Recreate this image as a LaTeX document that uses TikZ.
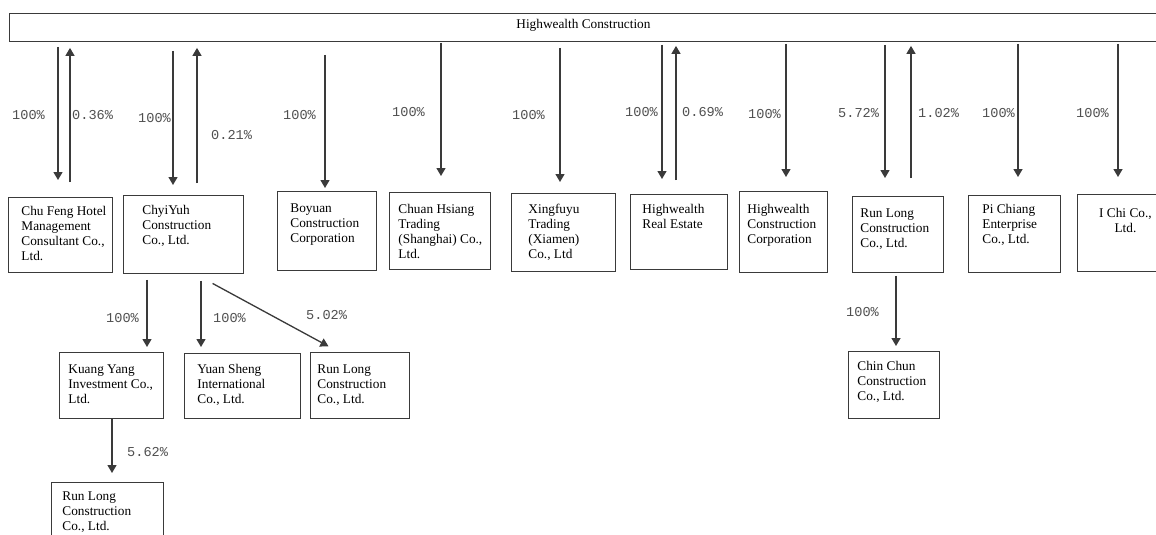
\documentclass[tikz,border=0pt]{standalone}
\usepackage{fontspec}
\setmainfont{Liberation Serif}
\newfontfamily\pctfont{Liberation Mono}
\usetikzlibrary{arrows.meta}
\definecolor{boxc}{HTML}{3A3A3A}
\definecolor{arrc}{HTML}{3A3A3A}
\definecolor{pctc}{HTML}{505050}
\newcommand\bt[5]{\parbox[c][#2pt][t]{#1pt}{\fontsize{13.3}{15}\selectfont\vspace*{#4pt}\leftskip=#3pt\rightskip=0pt plus 1fil\parindent=0pt #5\par}}
\tikzset{
  box/.style={draw=boxc, line width=0.9pt, inner sep=0pt, anchor=north west},
  arr/.style={draw=arrc, line width=1.3pt, -{Triangle[length=8pt,width=9pt]}},
  pct/.style={font=\pctfont\fontsize{13.6}{15}\selectfont, text=pctc, inner sep=0pt, anchor=west}
}
\begin{document}
\begin{tikzpicture}[x=1pt,y=-1pt]
\clip (0,0) rectangle (1156,535);
\fill[white] (0,0) rectangle (1156,535);
% top box
\node[box, minimum width=1148pt, minimum height=28pt, text height=9pt, text depth=7pt, font=\fontsize{13.3}{15}\selectfont] (hw) at (9,13) {Highwealth Construction};
% first row
\node[box] (cf) at (8,197) {\bt{104}{75}{13}{9}{Chu Feng Hotel\\Management\\Consultant Co.,\\Ltd.}};
\node[box] (cy) at (123,195) {\bt{120}{78}{19}{10}{ChyiYuh\\Construction\\Co., Ltd.}};
\node[box] (by) at (277,191) {\bt{99}{79}{13}{12}{Boyuan\\Construction\\Corporation}};
\node[box] (ch) at (389,192) {\bt{101}{77}{9}{12}{Chuan Hsiang\\Trading\\(Shanghai) Co.,\\Ltd.}};
\node[box] (xf) at (511,193) {\bt{104}{78}{17}{11}{Xingfuyu\\Trading\\(Xiamen)\\Co., Ltd}};
\node[box] (hr) at (630,194) {\bt{97}{75}{12}{10}{Highwealth\\Real Estate}};
\node[box] (hc) at (739,191) {\bt{88}{81}{8}{13}{Highwealth\\Construction\\Corporation}};
\node[box] (rl) at (852,196) {\bt{91}{76}{8}{12}{Run Long\\Construction\\Co., Ltd.}};
\node[box] (pc) at (968,195) {\bt{92}{77}{14}{9}{Pi Chiang\\Enterprise\\Co., Ltd.}};
\node[box] (ic) at (1077,194) {\bt{96}{77}{0}{14}{\centering I Chi Co.,\\Ltd.}};
% second row
\node[box] (ky) at (59,352) {\bt{104}{66}{9}{12}{Kuang Yang\\Investment Co.,\\Ltd.}};
\node[box] (ys) at (184,353) {\bt{116}{65}{13}{11}{Yuan Sheng\\International\\Co., Ltd.}};
\node[box] (rl2) at (310,352) {\bt{99}{66}{7}{12}{Run Long\\Construction\\Co., Ltd.}};
\node[box] (cc) at (848,351) {\bt{91}{67}{9}{10}{Chin Chun\\Construction\\Co., Ltd.}};
\node[box] (rl3) at (51,482) {\bt{112}{70}{11}{9}{Run Long\\Construction\\Co., Ltd.}};
% down arrows from top
\draw[arr, shorten <=5pt, shorten >=17pt] (hw.south -| 58,0) -- (cf.north -| 58,0);
\draw[arr, shorten <=9pt, shorten >=10pt] (hw.south -| 173,0) -- (cy.north -| 173,0);
\draw[arr, shorten <=13pt, shorten >=3pt] (hw.south -| 325,0) -- (by.north -| 325,0);
\draw[arr, shorten <=1pt, shorten >=16pt] (hw.south -| 441,0) -- (ch.north -| 441,0);
\draw[arr, shorten <=6pt, shorten >=11pt] (hw.south -| 560,0) -- (xf.north -| 560,0);
\draw[arr, shorten <=3pt, shorten >=15pt] (hw.south -| 662,0) -- (hr.north -| 662,0);
\draw[arr, shorten <=2pt, shorten >=14pt] (hw.south -| 786,0) -- (hc.north -| 786,0);
\draw[arr, shorten <=3pt, shorten >=18pt] (hw.south -| 885,0) -- (rl.north -| 885,0);
\draw[arr, shorten <=2pt, shorten >=18pt] (hw.south -| 1018,0) -- (pc.north -| 1018,0);
\draw[arr, shorten <=2pt, shorten >=17pt] (hw.south -| 1118,0) -- (ic.north -| 1118,0);
% up arrows
\draw[arr, shorten <=15pt, shorten >=6pt] (cf.north -| 70,0) -- (hw.south -| 70,0);
\draw[arr, shorten <=12pt, shorten >=6pt] (cy.north -| 197,0) -- (hw.south -| 197,0);
\draw[arr, shorten <=14pt, shorten >=4pt] (hr.north -| 676,0) -- (hw.south -| 676,0);
\draw[arr, shorten <=18pt, shorten >=4pt] (rl.north -| 911,0) -- (hw.south -| 911,0);
% lower arrows
\draw[arr, shorten <=6pt, shorten >=5pt] (cy.south -| 147,0) -- (ky.north -| 147,0);
\draw[arr, shorten <=7pt, shorten >=6pt] (cy.south -| 201,0) -- (ys.north -| 201,0);
\draw[arr, shorten <=20pt, shorten >=12pt] (cy.south -| 195,0) -- (rl2.north -| 339,0);
\draw[arr, shorten <=0pt, shorten >=9pt] (ky.south -| 112,0) -- (rl3.north -| 112,0);
\draw[arr, shorten <=3pt, shorten >=5pt] (rl.south -| 896,0) -- (cc.north -| 896,0);
% labels
\node[pct] (p1) at (12,115) {100\%};
\node[pct] (p2) at (72,115) {0.36\%};
\node[pct] (p3) at (138,118) {100\%};
\node[pct] (p4) at (211,135) {0.21\%};
\node[pct] (p5) at (283,115) {100\%};
\node[pct] (p6) at (392,112) {100\%};
\node[pct] (p7) at (512,115) {100\%};
\node[pct] (p8) at (625,112) {100\%};
\node[pct] (p9) at (682,112) {0.69\%};
\node[pct] (p10) at (748,114) {100\%};
\node[pct] (p11) at (838,113) {5.72\%};
\node[pct] (p12) at (918,113) {1.02\%};
\node[pct] (p13) at (982,113) {100\%};
\node[pct] (p14) at (1076,113) {100\%};
\node[pct] (p15) at (106,318) {100\%};
\node[pct] (p16) at (213,318) {100\%};
\node[pct] (p17) at (306,315) {5.02\%};
\node[pct] (p18) at (127,452) {5.62\%};
\node[pct] (p19) at (846,312) {100\%};
\end{tikzpicture}
\end{document}
